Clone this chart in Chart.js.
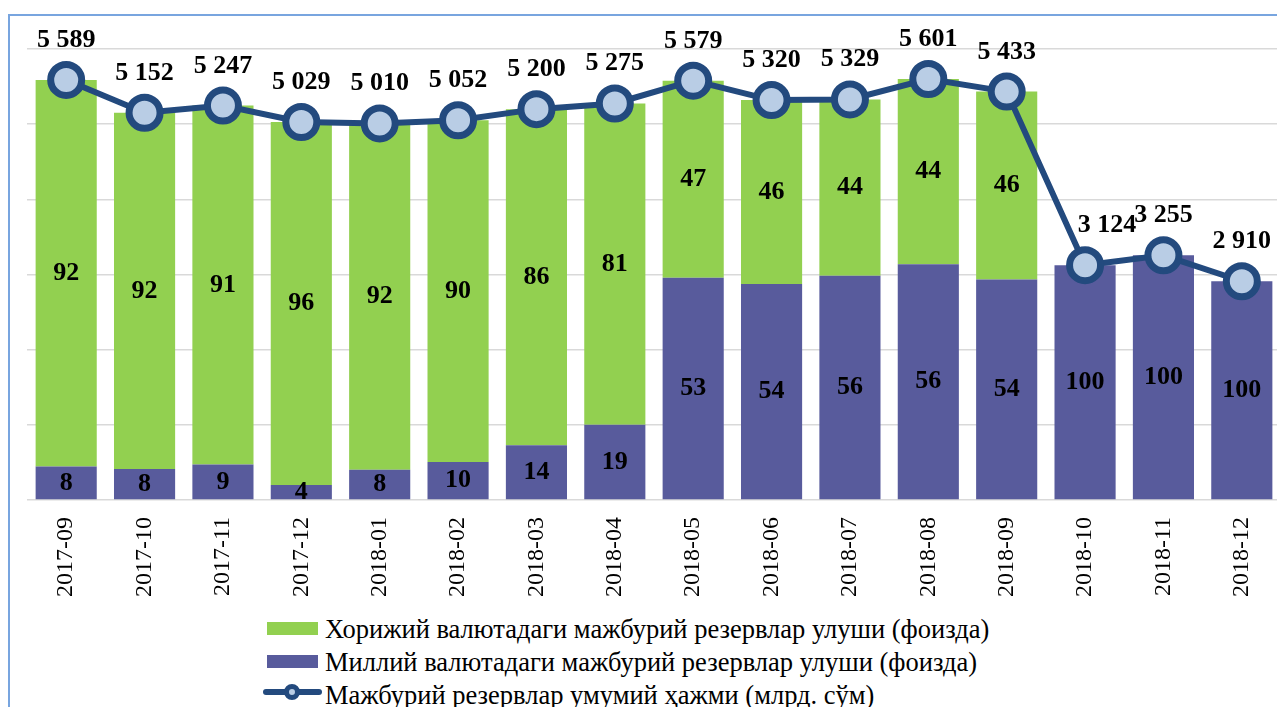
<!DOCTYPE html>
<html lang="uz">
<head>
    <meta charset="UTF-8">
    <title>Мажбурий резервлар</title>
    <script src="https://cdn.jsdelivr.net/npm/chart.js"></script>
    <style>
        body { margin: 0; overflow: hidden; background: #fff; width: 1277px; height: 707px; position: relative; }
        #frame { position: absolute; left: 8px; top: 14px; width: 1400px; height: 800px; border-left: 2px solid #78a5df; border-top: 2px solid #78a5df; }
        #wrap { position: absolute; left: 0; top: 0; width: 1290px; height: 600px; }
        .leg { position: absolute; left: 263px; height: 30px; font-family: "Liberation Serif", "Times New Roman", serif; font-size: 26.5px; color: #000; white-space: nowrap; }
        .leg .txt { position: absolute; left: 62px; top: 0; line-height: 30px; }
        .leg .box { position: absolute; left: 4px; top: 8px; width: 51px; height: 13px; }
        .leg .ln { position: absolute; left: 0; top: 9px; width: 59px; height: 6px; border-radius: 3px; background: #234a7e; }
        .leg .pt { position: absolute; left: 21px; top: 4px; width: 6px; height: 6px; border: 5px solid #234a7e; border-radius: 50%; background: #b9cde5; }
    </style>
</head>
<body>
    <div id="frame"></div>
    <div id="wrap"><canvas id="reserveChart" width="1290" height="600"></canvas></div>

    <div class="leg" style="top: 614px;"><div class="box" style="background:#92d050;"></div><span class="txt">Хорижий валютадаги мажбурий резервлар улуши (фоизда)</span></div>
    <div class="leg" style="top: 647px;"><div class="box" style="background:#585b9c;"></div><span class="txt">Миллий валютадаги мажбурий резервлар улуши (фоизда)</span></div>
    <div class="leg" style="top: 680px;"><div class="ln"></div><div class="pt"></div><span class="txt">Мажбурий резервлар умумий ҳажми (млрд. сўм)</span></div>

    <script>
        const months = ['2017-09', '2017-10', '2017-11', '2017-12', '2018-01', '2018-02', '2018-03', '2018-04',
                        '2018-05', '2018-06', '2018-07', '2018-08', '2018-09', '2018-10', '2018-11', '2018-12'];
        // total reserves, bln sum
        const totalReserves = [5589, 5152, 5247, 5029, 5010, 5052, 5200, 5275, 5579, 5320, 5329, 5601, 5433, 3124, 3255, 2910];
        // shares, percent
        const foreignShare  = [92, 92, 91, 96, 92, 90, 86, 81, 47, 46, 44, 44, 46, 0, 0, 0];
        const nationalShare = [8, 8, 9, 4, 8, 10, 14, 19, 53, 54, 56, 56, 54, 100, 100, 100];

        const nationalPart = totalReserves.map((t, i) => t * nationalShare[i] / 100);
        const foreignPart = totalReserves.map((t, i) => t * foreignShare[i] / 100);

        const fmt = v => String(v).replace(/\B(?=(\d{3})+(?!\d))/g, ' ');

        const labelPlugin = {
            id: 'labels',
            afterDatasetsDraw(chart) {
                const ctx = chart.ctx;
                ctx.save();
                ctx.fillStyle = '#000';
                ctx.font = 'bold 26px "Liberation Serif", serif';
                ctx.textAlign = 'center';
                ctx.textBaseline = 'middle';
                [[0, nationalShare], [1, foreignShare]].forEach(([di, shares]) => {
                    chart.getDatasetMeta(di).data.forEach((bar, i) => {
                        if (!shares[i]) return;
                        ctx.fillText(shares[i], bar.x, (bar.y + bar.base) / 2);
                    });
                });
                ctx.textBaseline = 'alphabetic';
                const pts = chart.getDatasetMeta(2).data;
                pts.forEach((pt, i) => {
                    // nudge the label right where the line drops steeply into the point
                    const prev = pts[i - 1];
                    const dx = prev && prev.y < pt.y - 100 ? 22 : 0;
                    ctx.fillText(fmt(totalReserves[i]), pt.x + dx, pt.y - 33);
                });
                ctx.restore();
            }
        };

        const ctx = document.getElementById('reserveChart').getContext('2d');
        new Chart(ctx, {
            data: {
                labels: months,
                datasets: [
                    {
                        type: 'bar',
                        label: 'Миллий валютадаги мажбурий резервлар улуши (фоизда)',
                        data: nationalPart,
                        backgroundColor: '#585b9c',
                        stack: 'bars',
                        order: 2,
                        barPercentage: 0.78,
                        categoryPercentage: 1
                    },
                    {
                        type: 'bar',
                        label: 'Хорижий валютадаги мажбурий резервлар улуши (фоизда)',
                        data: foreignPart,
                        backgroundColor: '#92d050',
                        stack: 'bars',
                        order: 2,
                        barPercentage: 0.78,
                        categoryPercentage: 1
                    },
                    {
                        type: 'line',
                        label: 'Мажбурий резервлар умумий ҳажми (млрд. сўм)',
                        data: totalReserves,
                        borderColor: '#234a7e',
                        borderWidth: 6,
                        pointRadius: 15.5,
                        pointBorderWidth: 7,
                        pointBackgroundColor: '#b9cde5',
                        pointBorderColor: '#234a7e',
                        stack: 'line',
                        order: 1,
                        tension: 0
                    }
                ]
            },
            options: {
                responsive: false,
                animation: false,
                layout: { autoPadding: false, padding: { left: 27, right: 9, top: 49, bottom: 0 } },
                plugins: {
                    legend: { display: false },
                    tooltip: { enabled: false }
                },
                scales: {
                    x: {
                        stacked: true,
                        grid: { display: false, drawTicks: false },
                        border: { display: false },
                        ticks: {
                            minRotation: 90,
                            maxRotation: 90,
                            padding: 17,
                            color: '#000',
                            font: { family: '"Liberation Serif", serif', size: 24 }
                        },
                        afterFit: s => { s.height = 100; s.paddingLeft = 0; s.paddingRight = 0; }
                    },
                    y: {
                        stacked: true,
                        min: 0,
                        max: 6000,
                        ticks: { display: false, stepSize: 1000 },
                        grid: { color: '#d9d9d9', lineWidth: 1.5, drawTicks: false },
                        border: { display: false },
                        afterFit: s => { s.width = 0; s.paddingTop = 0; s.paddingBottom = 0; }
                    }
                }
            },
            plugins: [labelPlugin]
        });
    </script>
</body>
</html>
